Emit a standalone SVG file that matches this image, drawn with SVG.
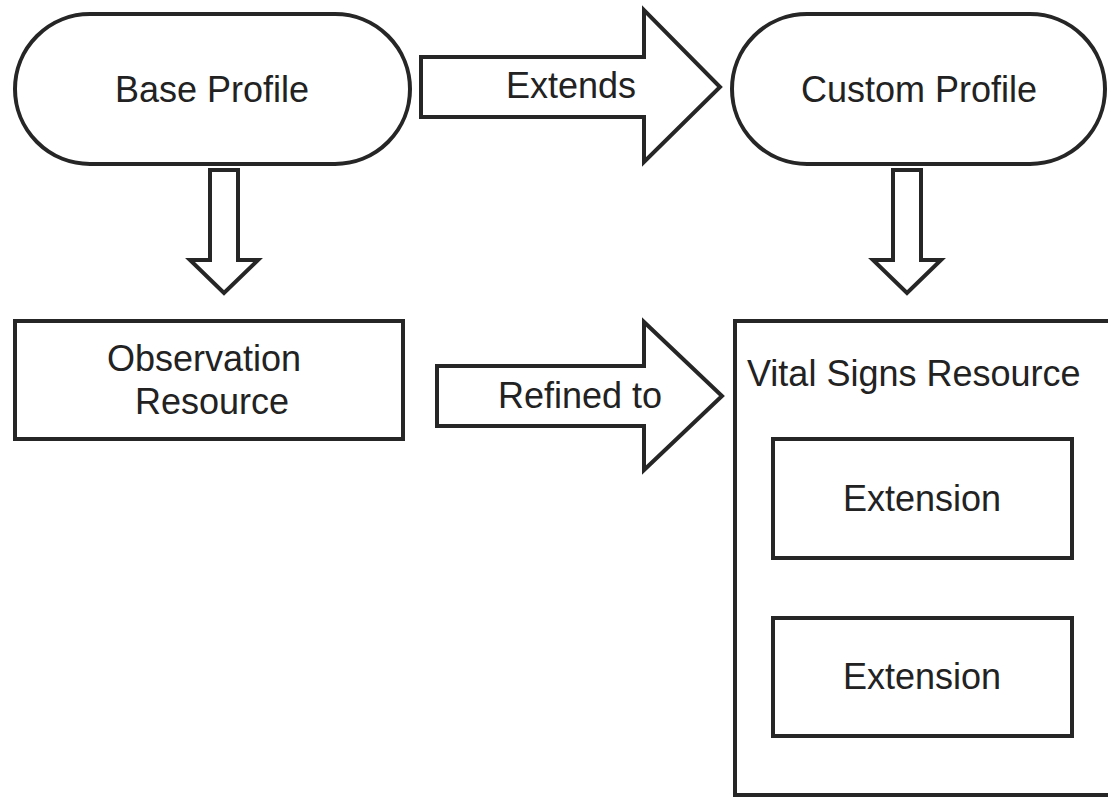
<svg xmlns="http://www.w3.org/2000/svg" width="1108" height="798" viewBox="0 0 1108 798">
  <style>
    .shape { fill: #ffffff; stroke: #262626; stroke-width: 4; stroke-linejoin: miter; }
    .label { font-family: "Liberation Sans", Arial, sans-serif; font-size: 36px; fill: #222222; }
    .mid { text-anchor: middle; }
  </style>
  <rect width="1108" height="798" fill="#ffffff"/>

  <g id="connectors">
    <!-- Extends: block arrow from Base Profile to Custom Profile -->
    <g id="arrow-extends">
      <polygon class="shape" points="421,57 644,57 644,10 720,87 644,162 644,117 421,117"/>
      <text class="label mid" x="571" y="98">Extends</text>
    </g>
    <!-- Refined to: block arrow from Observation Resource to Vital Signs Resource -->
    <g id="arrow-refined">
      <polygon class="shape" points="437,366 644,366 644,322 722,396 644,470 644,426 437,426"/>
      <text class="label mid" x="580" y="408">Refined to</text>
    </g>
    <!-- downward arrows -->
    <polygon id="arrow-base-down" class="shape" points="210,170 238,170 238,260 258,260 224,293 190,260 210,260"/>
    <polygon id="arrow-custom-down" class="shape" points="893,170 921,170 921,260 941,260 907,293 873,260 893,260"/>
  </g>

  <g id="base-profile">
    <rect class="shape" x="15" y="14" width="395" height="150" rx="75" ry="75"/>
    <text class="label mid" x="212" y="102">Base Profile</text>
  </g>

  <g id="custom-profile">
    <rect class="shape" x="732" y="14" width="373" height="150" rx="75" ry="75"/>
    <text class="label mid" x="919" y="102">Custom Profile</text>
  </g>

  <g id="observation-resource">
    <rect class="shape" x="15" y="321" width="388" height="118"/>
    <text class="label mid" x="204" y="371">Observation</text>
    <text class="label mid" x="212" y="414">Resource</text>
  </g>

  <g id="vital-signs-resource">
    <rect class="shape" x="735" y="321" width="380" height="474"/>
    <text class="label" x="747" y="386">Vital Signs Resource</text>
  </g>

  <g id="extension-1">
    <rect class="shape" x="773" y="439" width="299" height="119"/>
    <text class="label mid" x="922" y="511">Extension</text>
  </g>

  <g id="extension-2">
    <rect class="shape" x="773" y="618" width="299" height="118"/>
    <text class="label mid" x="922" y="689">Extension</text>
  </g>
</svg>
